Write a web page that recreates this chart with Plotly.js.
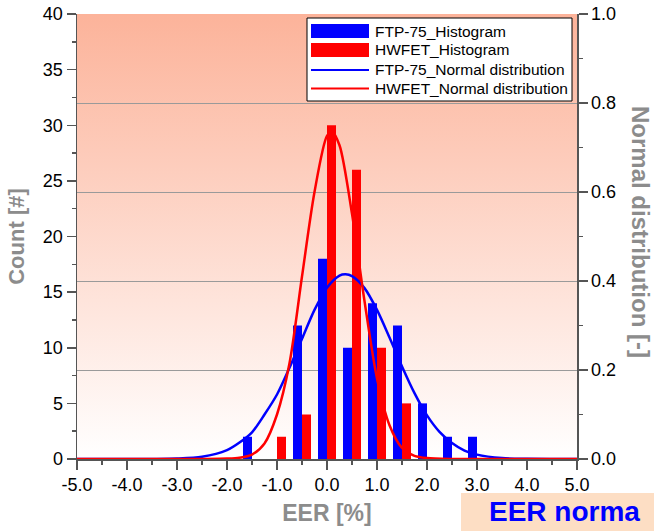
<!DOCTYPE html>
<html>
<head>
<meta charset="utf-8">
<script src="https://cdn.plot.ly/plotly-3.0.1.min.js"></script>
<style>
html,body{margin:0;padding:0;background:#fff;}
#chart{width:654px;height:531px;}
</style>
</head>
<body>
<div id="chart"></div>
<script>
// Histogram bin centres (EER %)
const binCenters = [-1.5, -1.0, -0.5, 0.0, 0.5, 1.0, 1.5, 2.0, 2.5, 3.0];
const ftpCounts  = [2, 0, 12, 18, 10, 14, 12, 5, 2, 2];
const hwfetCounts = [0, 2, 4, 30, 26, 10, 5, 0, 0, 0];

// Normal distribution curves
const ftpCurveX = [-5, -4, -3.5, -3, -2.5, -2, -1.75, -1.5, -1.25, -1, -0.75, -0.5, -0.25, 0, 0.25, 0.37, 0.5, 0.75, 1, 1.25, 1.5, 1.75, 2, 2.25, 2.5, 2.75, 3, 3.5, 4, 5];
const ftpCurveY = [0, 0, 0.0002, 0.001, 0.005, 0.02, 0.037, 0.06, 0.10, 0.145, 0.205, 0.27, 0.335, 0.385, 0.412, 0.415, 0.411, 0.384, 0.335, 0.273, 0.208, 0.148, 0.098, 0.061, 0.036, 0.019, 0.0098, 0.002, 0.0003, 0];
const hwfetCurveX = [-5, -4, -3, -2.5, -2, -1.75, -1.5, -1.25, -1, -0.75, -0.5, -0.25, 0, 0.1, 0.25, 0.5, 0.75, 1, 1.25, 1.5, 1.75, 2, 2.5, 3, 4, 5];
const hwfetCurveY = [0, 0, 0, 0.0002, 0.001, 0.003, 0.01, 0.035, 0.10, 0.215, 0.41, 0.60, 0.726, 0.735, 0.705, 0.551, 0.355, 0.181, 0.076, 0.025, 0.007, 0.002, 0.0001, 0, 0, 0];

// Tick labels
const xTickVals = [-5, -4, -3, -2, -1, 0, 1, 2, 3, 4, 5];
const xTickText = ['-5.0', '-4.0', '-3.0', '-2.0', '-1.0', '0.0', '1.0', '2.0', '3.0', '4.0', '5.0'];

// Legend labels
const legendNames = ['FTP-75_Histogram', 'HWFET_Histogram', 'FTP-75_Normal distribution', 'HWFET_Normal distribution'];

const FONT = 'Liberation Sans, Arial, sans-serif';
const AX = '#555555';
const BLUE = '#0000FF';
const RED = '#FF0000';
const TITLEGRAY = '#8C8C8C';

const traces = [
  {type: 'bar', x: binCenters, y: ftpCounts, name: legendNames[0], marker: {color: BLUE, line: {width: 0}}, yaxis: 'y', hoverinfo: 'x+y'},
  {type: 'bar', x: binCenters, y: hwfetCounts, name: legendNames[1], marker: {color: RED, line: {width: 0}}, yaxis: 'y', hoverinfo: 'x+y'},
  {type: 'scatter', mode: 'lines', x: ftpCurveX, y: ftpCurveY, name: legendNames[2], line: {color: BLUE, width: 2.5, shape: 'spline', smoothing: 0.8}, yaxis: 'y2'},
  {type: 'scatter', mode: 'lines', x: hwfetCurveX, y: hwfetCurveY, name: legendNames[3], line: {color: RED, width: 2.5, shape: 'spline', smoothing: 0.8}, yaxis: 'y2'}
];

const gradSvg = '<svg xmlns="http://www.w3.org/2000/svg" width="100" height="100" viewBox="0 0 100 100" preserveAspectRatio="none">' +
  '<defs><linearGradient id="g" x1="0" y1="0" x2="0" y2="1">' +
  '<stop offset="0" stop-color="#FCB39A"/><stop offset="1" stop-color="#FFFFFF"/>' +
  '</linearGradient></defs><rect x="0" y="0" width="100" height="100" fill="url(#g)"/></svg>';
const gradSrc = 'data:image/svg+xml;charset=utf-8,' + encodeURIComponent(gradSvg);

// pixel -> paper helpers (plot area: x 77..577, y 14..459)
const px = v => (v - 77) / 500;
const py = v => (459 - v) / 445;

const shapes = [
  // legend box
  {type: 'rect', xref: 'paper', yref: 'paper', x0: px(307), x1: px(572), y0: py(101), y1: py(18), fillcolor: '#FFFFFF', line: {color: '#000000', width: 1}, layer: 'above'},
  {type: 'rect', xref: 'paper', yref: 'paper', x0: px(311), x1: px(369), y0: py(38), y1: py(24), fillcolor: BLUE, line: {width: 0}, layer: 'above'},
  {type: 'rect', xref: 'paper', yref: 'paper', x0: px(311), x1: px(369), y0: py(57), y1: py(43), fillcolor: RED, line: {width: 0}, layer: 'above'},
  {type: 'line', xref: 'paper', yref: 'paper', x0: px(311), x1: px(369), y0: py(70), y1: py(70), line: {color: BLUE, width: 2}, layer: 'above'},
  {type: 'line', xref: 'paper', yref: 'paper', x0: px(311), x1: px(369), y0: py(88.5), y1: py(88.5), line: {color: RED, width: 2}, layer: 'above'},
  // peach box bottom right
  {type: 'rect', xref: 'paper', yref: 'paper', x0: px(461), x1: px(700), y0: py(560), y1: py(493), fillcolor: '#FDDEC4', line: {width: 0}, layer: 'above'}
];

const legY = [31, 49.5, 69.5, 88];
const annotations = legendNames.map((t, i) => ({
  text: t, xref: 'paper', yref: 'paper', x: px(373), y: py(legY[i]), xanchor: 'left', yanchor: 'middle',
  showarrow: false, font: {family: FONT, size: 15.5, color: '#000000'}
}));
annotations.push({
  text: 'Normal distribution [-]', xref: 'paper', yref: 'paper', x: px(641), y: py(232), xanchor: 'center', yanchor: 'middle',
  textangle: 90, showarrow: false, font: {family: FONT, size: 24, color: TITLEGRAY, weight: 'bold'}
});
annotations.push({
  text: 'EER norma', xref: 'paper', yref: 'paper', x: px(487), y: py(494), xanchor: 'left', yanchor: 'top',
  showarrow: false, font: {family: FONT, size: 28, color: BLUE, weight: 'bold'}
});

const layout = {
  width: 654, height: 531,
  margin: {l: 77, r: 77, t: 14, b: 72, pad: 0},
  paper_bgcolor: '#FFFFFF',
  plot_bgcolor: 'rgba(0,0,0,0)',
  showlegend: false,
  barmode: 'group', bargap: 0.28, bargroupgap: 0,
  font: {family: FONT, size: 18, color: '#000000'},
  xaxis: {
    range: [-5, 5], tickmode: 'array', tickvals: xTickVals, ticktext: xTickText,
    ticks: 'outside', ticklen: 9, tickwidth: 1.5, tickcolor: AX,
    minor: {tickmode: 'linear', tick0: -5, dtick: 0.5, ticks: 'outside', ticklen: 4, tickwidth: 1.5, tickcolor: AX},
    showline: true, linecolor: AX, linewidth: 1.5, showgrid: false, zeroline: false,
    tickfont: {family: FONT, size: 18, color: '#000000'},
    title: {text: 'EER [%]', font: {family: FONT, size: 23, color: TITLEGRAY, weight: 'bold'}, standoff: 11},
    automargin: false
  },
  yaxis: {
    range: [0, 40], tick0: 0, dtick: 5,
    ticks: 'outside', ticklen: 9, tickwidth: 1.5, tickcolor: AX,
    minor: {tick0: 0, dtick: 2.5, ticks: 'outside', ticklen: 4, tickwidth: 1.5, tickcolor: AX},
    showline: true, linecolor: AX, linewidth: 1.5, showgrid: false, zeroline: false,
    tickfont: {family: FONT, size: 18, color: '#000000'},
    title: {text: 'Count [#]', font: {family: FONT, size: 22, color: TITLEGRAY, weight: 'bold'}, standoff: 12},
    automargin: false
  },
  yaxis2: {
    overlaying: 'y', side: 'right', range: [0, 1], tick0: 0, dtick: 0.2, tickformat: '.1f',
    ticks: 'outside', ticklen: 9, tickwidth: 1.5, tickcolor: AX,
    minor: {tick0: 0, dtick: 0.1, ticks: 'outside', ticklen: 4, tickwidth: 1.5, tickcolor: AX},
    showline: true, linecolor: AX, linewidth: 1.5,
    showgrid: true, gridcolor: '#9A9A9A', gridwidth: 1, zeroline: false,
    tickfont: {family: FONT, size: 18, color: '#000000'},
    automargin: false
  },
  images: [{source: gradSrc, xref: 'paper', yref: 'paper', x: 0, y: 1, sizex: 1, sizey: 1, sizing: 'stretch', xanchor: 'left', yanchor: 'top', layer: 'below'}],
  shapes: shapes,
  annotations: annotations
};

Plotly.newPlot('chart', traces, layout, {staticPlot: true, displayModeBar: false});
</script>
</body>
</html>
